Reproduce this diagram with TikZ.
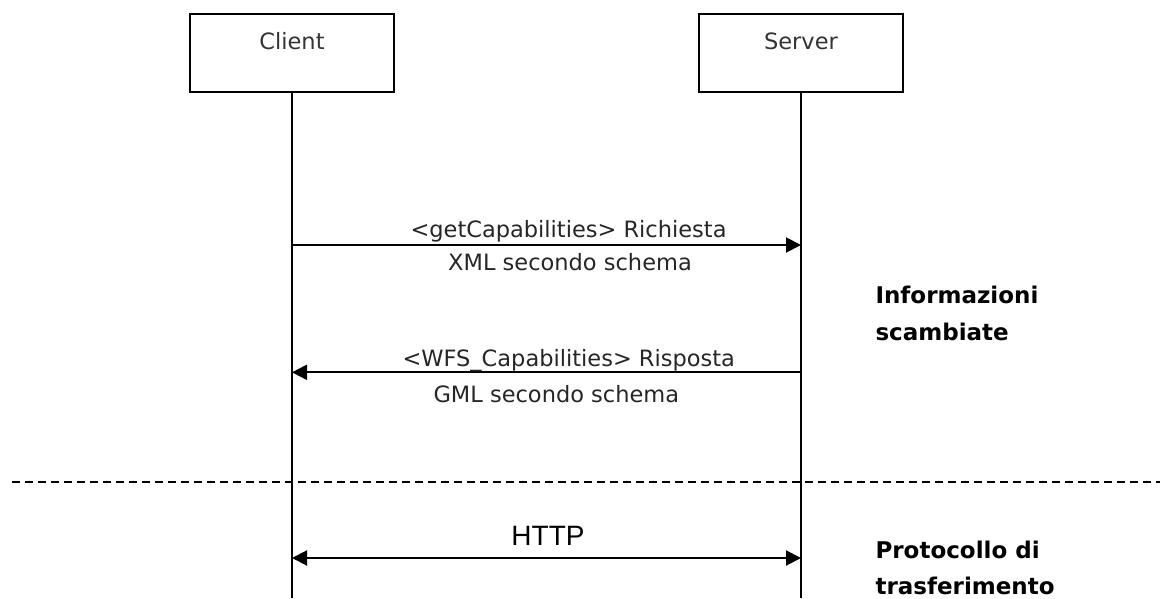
\documentclass[tikz,border=0pt]{standalone}
\usepackage{fontspec}
\setmainfont{DejaVu Sans}
\newfontfamily\httpfont{Liberation Sans}
\usetikzlibrary{arrows.meta}
\begin{document}
\begin{tikzpicture}[x=1pt,y=-1pt,
  actor/.style={draw=black,line width=2.4pt,minimum width=204pt,minimum height=78pt,inner sep=0pt},
  actorlbl/.style={font=\fontsize{22.5}{26}\selectfont,text=black!80,anchor=base},
  life/.style={line width=2.4pt},
  msgline/.style={line width=2pt},
  tip/.style={-{Triangle[length=15pt,width=15pt]}},
  msgtxt/.style={font=\fontsize{22.5}{26}\selectfont,text=black!85},
  sidetxt/.style={font=\bfseries\fontsize{23}{27}\selectfont,anchor=base west,text=black},
  sep/.style={line width=2.4pt,dash pattern=on 8pt off 5pt},
]
\useasboundingbox (0,0) rectangle (1160,598);
% actors
\node[actor] (client) at (292,53) {};
\node[actor] (server) at (801,53) {};
\node[actorlbl] (clientlbl) at (292,49.5) {Client};
\node[actorlbl] (serverlbl) at (801,49.5) {Server};
% lifelines
\coordinate (cbot) at (292,598);
\coordinate (sbot) at (801,598);
\draw[life] (client.south) -- (cbot);
\draw[life] (server.south) -- (sbot);
% message 1
\coordinate (c1) at (292,245);
\coordinate (s1) at (801,245);
\draw[msgline,tip] (c1) -- (s1);
\node[msgtxt,anchor=base west] (m1a) at (407,237.7) {<getCapabilities> Richiesta};
\node[msgtxt,anchor=base] (m1b) at (570,270.5) {XML secondo schema};
% message 2
\coordinate (c2) at (292,372.3);
\coordinate (s2) at (801,372.3);
\draw[msgline,tip] (s2) -- (c2);
\node[msgtxt,anchor=base west] (m2a) at (399,366) {<WFS\_Capabilities> Risposta};
\node[msgtxt,anchor=base west] (m2b) at (430,402) {GML secondo schema};
% separator
\coordinate (sepl) at (12,482);
\coordinate (sepr) at (1160,482);
\draw[sep] (sepl) -- (sepr);
% protocol
\coordinate (c3) at (292,558);
\coordinate (s3) at (801,558);
\draw[msgline,{Triangle[length=15pt,width=15pt]}-{Triangle[length=15pt,width=15pt]}] (c3) -- (s3);
\node[font=\httpfont\fontsize{28}{32}\selectfont,text=black,anchor=base] (http) at (548,545) {HTTP};
% side labels
\node[sidetxt] (info1) at (872,303) {Informazioni};
\node[sidetxt] (info2) at (872,340) {scambiate};
\node[sidetxt] (prot1) at (872,558) {Protocollo di};
\node[sidetxt] (prot2) at (872,594) {trasferimento};
\end{tikzpicture}
\end{document}
